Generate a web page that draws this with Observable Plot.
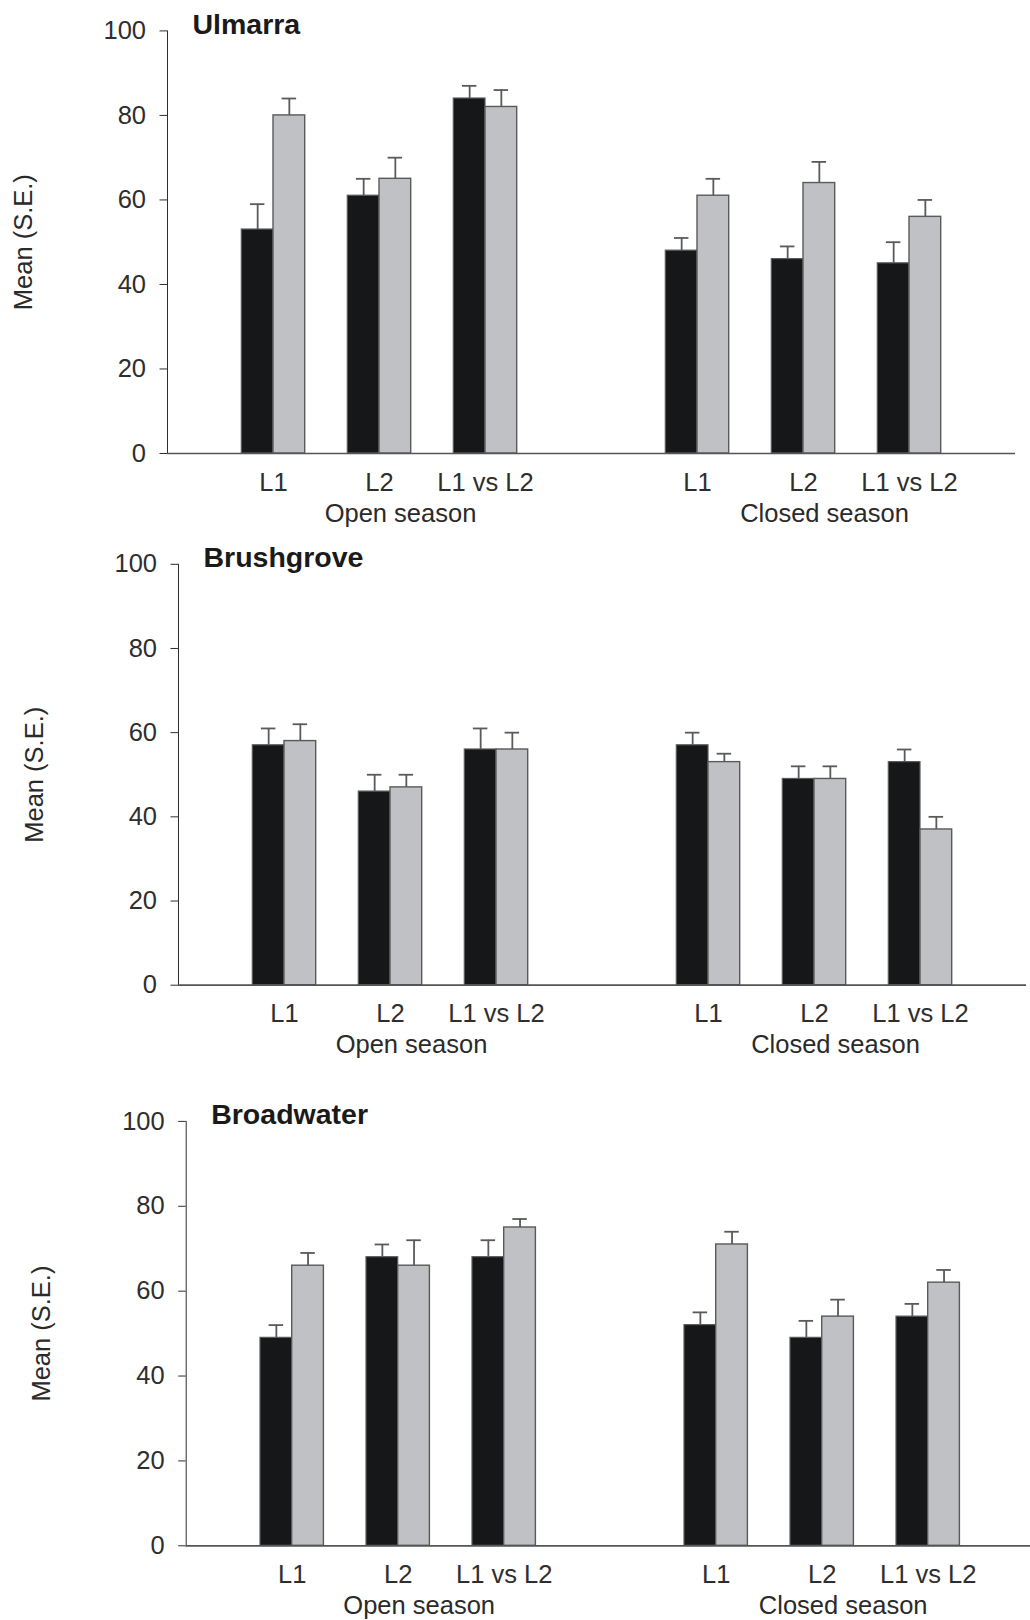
<!DOCTYPE html>
<html>
<head>
<meta charset="utf-8">
<script src="https://cdn.jsdelivr.net/npm/d3@7"></script>
<script src="https://cdn.jsdelivr.net/npm/@observablehq/plot@0.6"></script>
<style>
  body { margin: 0; background: #fff; }
  #wrap { position: relative; width: 1030px; height: 1620px; background: #fff; overflow: hidden; }
  .panel { position: absolute; left: 0; }
</style>
</head>
<body>
<div id="wrap"></div>
<script>
// ---- data ----
const seasons = ["Open season", "Closed season"];
const comparisons = ["L1", "L2", "L1 vs L2"];
const sites = ["Ulmarra", "Brushgrove", "Broadwater"];
const yTicks = [0, 20, 40, 60, 80, 100];
const yLabel = "Mean (S.E.)";

// order in every array: Open L1, Open L2, Open L1 vs L2, Closed L1, Closed L2, Closed L1 vs L2
const ulmarraDark     = [53, 61, 84, 48, 46, 45];
const ulmarraDarkSE   = [6, 4, 3, 3, 3, 5];
const ulmarraLight    = [80, 65, 82, 61, 64, 56];
const ulmarraLightSE  = [4, 5, 4, 4, 5, 4];

const brushgroveDark    = [57, 46, 56, 57, 49, 53];
const brushgroveDarkSE  = [4, 4, 5, 3, 3, 3];
const brushgroveLight   = [58, 47, 56, 53, 49, 37];
const brushgroveLightSE = [4, 3, 4, 2, 3, 3];

const broadwaterDark    = [49, 68, 68, 52, 49, 54];
const broadwaterDarkSE  = [3, 3, 4, 3, 4, 3];
const broadwaterLight   = [66, 66, 75, 71, 54, 62];
const broadwaterLightSE = [3, 6, 2, 3, 4, 3];

const siteSeries = [
  [ulmarraDark, ulmarraDarkSE, ulmarraLight, ulmarraLightSE],
  [brushgroveDark, brushgroveDarkSE, brushgroveLight, brushgroveLightSE],
  [broadwaterDark, broadwaterDarkSE, broadwaterLight, broadwaterLightSE]
];

// ---- layout / style ----
const layouts = [
  {top: 0,    height: 530, axisX: 167,   y100: 30.4,   y0: 453},
  {top: 530,  height: 540, axisX: 178,   y100: 563.8,  y0: 984.7},
  {top: 1070, height: 550, axisX: 185.7, y100: 1120.9, y0: 1545.3}
];
const W = 1030;
const SPAN = 848;          // length of x range
const PAD_INNER = 0.402;
const STEP = SPAN / 8;
const BAND = STEP * (1 - PAD_INNER);
const HALF = BAND / 2;
const CAP = 14.5;
const DARK = "#161719";
const LIGHT = "#c0c1c4";
const EDGE = "#5a5a5a";
const FONT = "'Liberation Sans', Arial, Helvetica, sans-serif";

const key = (s, c) => s + "|" + c;
const domain = [...comparisons.map(c => key(seasons[0], c)), "gap", ...comparisons.map(c => key(seasons[1], c))];
const tickKeys = domain.filter(d => d !== "gap");

const wrap = document.getElementById("wrap");

sites.forEach((site, p) => {
  const [dark, darkSE, light, lightSE] = siteSeries[p];
  const L = layouts[p];
  const rows = [];
  seasons.forEach((s, si) => comparisons.forEach((c, ci) => {
    const i = si * 3 + ci;
    rows.push({key: key(s, c), season: s, comp: c,
      dark: dark[i], darkSE: darkSE[i], light: light[i], lightSE: lightSE[i]});
  }));

  const chart = Plot.plot({
    width: W,
    height: L.height,
    marginLeft: L.axisX,
    marginRight: Math.max(0, W - L.axisX - SPAN),
    marginTop: L.y100 - L.top,
    marginBottom: L.height - (L.y0 - L.top),
    style: {fontFamily: FONT, fontSize: "25.5px", color: "#2e2e2e", background: "transparent"},
    x: {
      type: "band", domain, range: [L.axisX, L.axisX + SPAN],
      paddingInner: PAD_INNER, paddingOuter: (1 + PAD_INNER) / 2, align: 0.5, round: false,
      ticks: tickKeys, tickFormat: d => d.split("|")[1], tickSize: 0, tickPadding: 19, label: null
    },
    y: {domain: [0, 100], ticks: yTicks, tickSize: 7.5, tickPadding: 14, line: true, label: null},
    marks: [
      Plot.barY(rows, {x: "key", y: "dark", fill: DARK, stroke: EDGE, strokeWidth: 1.2, insetLeft: 0, insetRight: HALF}),
      Plot.barY(rows, {x: "key", y: "light", fill: LIGHT, stroke: EDGE, strokeWidth: 1.4, insetLeft: HALF, insetRight: 0}),
      Plot.ruleX(rows, {x: "key", y1: "dark", y2: d => d.dark + d.darkSE, dx: -HALF / 2, stroke: EDGE, strokeWidth: 1.8}),
      Plot.tickY(rows, {x: "key", y: d => d.dark + d.darkSE, insetLeft: HALF / 2 - CAP / 2, insetRight: BAND - HALF / 2 - CAP / 2, stroke: EDGE, strokeWidth: 1.8}),
      Plot.ruleX(rows, {x: "key", y1: "light", y2: d => d.light + d.lightSE, dx: HALF / 2, stroke: EDGE, strokeWidth: 1.8}),
      Plot.tickY(rows, {x: "key", y: d => d.light + d.lightSE, insetLeft: BAND - HALF / 2 - CAP / 2, insetRight: HALF / 2 - CAP / 2, stroke: EDGE, strokeWidth: 1.8}),
      Plot.ruleY([0], {stroke: "#555", strokeWidth: 1.7}),
      Plot.text(seasons, {x: s => key(s, comparisons[1]), text: d => d, frameAnchor: "bottom", dy: 68, dx: 21,
        lineAnchor: "bottom", fontSize: 25.5, fill: "#2a2a2a"}),
      Plot.text([site], {text: d => d, frameAnchor: "top-left", dx: 25, dy: 3, lineAnchor: "bottom",
        textAnchor: "start", fontWeight: "bold", fontSize: 28.5, fill: "#1a1a1a"}),
      Plot.text([yLabel], {text: d => d, frameAnchor: "left", rotate: -90, dx: -144, lineAnchor: "middle",
        textAnchor: "middle", fontSize: 25.5, fill: "#2a2a2a"})
    ]
  });
  chart.classList.add("panel");
  chart.style.top = L.top + "px";
  wrap.appendChild(chart);
});
</script>
</body>
</html>
